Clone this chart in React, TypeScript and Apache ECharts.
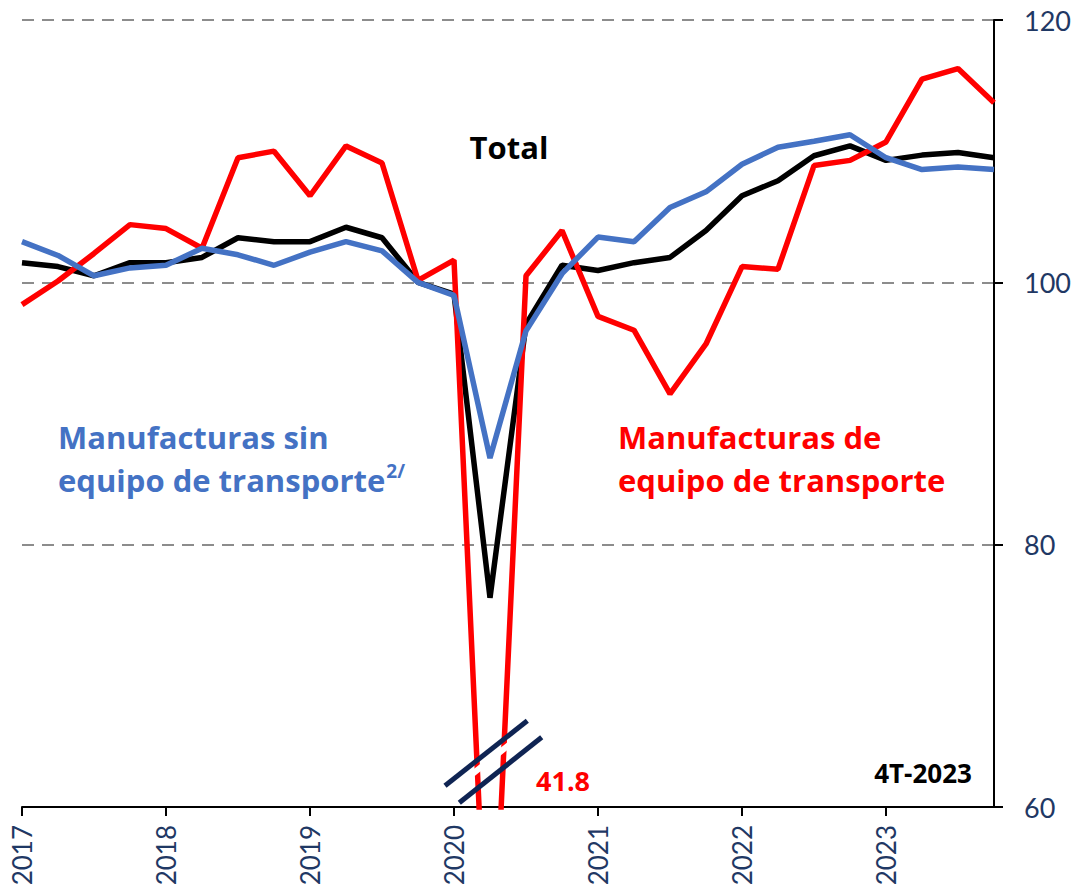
import React, { useEffect, useRef } from "react";
import * as echarts from "echarts";

const quarters: string[] = [];
const years = ["2017", "2018", "2019", "2020", "2021", "2022", "2023"];
for (const y of years) for (const q of ["1T", "2T", "3T", "4T"]) quarters.push(`${q}-${y}`);

const transporte = [98.3, 100.1, 102.2, 104.4, 104.1, 102.6, 109.5, 110.0, 106.6, 110.4, 109.1, 100.15, 101.7, 41.8, 100.5, 103.95, 97.4, 96.35, 91.5, 95.3, 101.2, 101.0, 108.9, 109.3, 110.7, 115.5, 116.3, 113.7];
const total = [101.5, 101.2, 100.5, 101.5, 101.5, 101.9, 103.4, 103.1, 103.1, 104.2, 103.4, 100.0, 99.1, 75.95, 96.8, 101.3, 100.9, 101.5, 101.9, 103.95, 106.6, 107.75, 109.65, 110.4, 109.3, 109.7, 109.9, 109.5];
const sinTransporte = [103.1, 102.05, 100.5, 101.1, 101.3, 102.6, 102.1, 101.3, 102.3, 103.1, 102.4, 100.0, 99.0, 86.6, 96.3, 100.66, 103.45, 103.1, 105.7, 106.9, 109.0, 110.3, 110.75, 111.25, 109.5, 108.6, 108.8, 108.6];

const FONT = "Lato, 'Noto Sans', sans-serif";
const TFONT = "'Open Sans', 'Noto Sans', sans-serif";
const NAVY = "#1F3864";

export default function App() {
  const ref = useRef<HTMLDivElement>(null);
  useEffect(() => {
    document.body.style.margin = "0";
    const chart = echarts.init(ref.current!, undefined, { renderer: "svg" });
    chart.setOption({
      animation: false,
      grid: { left: 22, right: 84, top: 20, bottom: 89, containLabel: false },
      xAxis: {
        type: "category",
        data: quarters,
        boundaryGap: false,
        axisLine: { lineStyle: { color: "#000", width: 2 } },
        axisTick: { interval: 3, length: 9, lineStyle: { color: "#000", width: 2 } },
        axisLabel: {
          interval: 3,
          rotate: 90,
          margin: 18,
          color: NAVY,
          fontSize: 26,
          fontFamily: FONT,
          formatter: (v: string) => v.split("-")[1],
        },
        splitLine: { show: false },
      },
      yAxis: {
        type: "value",
        position: "right",
        min: 60,
        max: 120,
        interval: 20,
        axisLine: { show: true, lineStyle: { color: "#000", width: 2 } },
        axisTick: { show: true, length: 9, lineStyle: { color: "#000", width: 2 } },
        axisLabel: { margin: 30, color: NAVY, fontSize: 27, fontFamily: FONT },
        splitLine: { show: true, lineStyle: { color: "#8C8C8C", width: 2, type: [12, 8] } },
      },
      series: [
        { name: "Total", type: "line", data: total, symbol: "none", lineStyle: { color: "#000", width: 5.5 }, z: 2 },
        { name: "Manufacturas de equipo de transporte", type: "line", data: transporte, symbol: "none", lineStyle: { color: "#FF0000", width: 5.5 }, z: 3 },
        { name: "Manufacturas sin equipo de transporte", type: "line", data: sinTransporte, symbol: "none", lineStyle: { color: "#4472C4", width: 5.5 }, z: 4 },
      ],
      graphic: [
        { type: "line", z: 100, shape: { x1: 445, y1: 795.7, x2: 527, y2: 730.7 }, style: { stroke: "#fff", lineWidth: 6 } },
        { type: "line", z: 101, shape: { x1: 445, y1: 785.7, x2: 527.3, y2: 720.7 }, style: { stroke: "#0F2453", lineWidth: 5 } },
        { type: "line", z: 101, shape: { x1: 459.3, y1: 802.7, x2: 541.7, y2: 737.3 }, style: { stroke: "#0F2453", lineWidth: 5 } },
        { type: "text", z: 102, x: 563, y: 780, style: { text: "41.8", fill: "#FF0000", font: `bold 27px ${TFONT}`, textAlign: "center", textVerticalAlign: "middle" } },
        { type: "text", z: 102, x: 923, y: 773, style: { text: "4T-2023", fill: "#000", font: `bold 26px ${TFONT}`, textAlign: "center", textVerticalAlign: "middle" } },
        { type: "text", z: 102, x: 509, y: 147, style: { text: "Total", fill: "#000", font: `bold 31px ${TFONT}`, textAlign: "center", textVerticalAlign: "middle" } },
        { type: "text", z: 102, x: 58, y: 437, style: { text: "Manufacturas sin", fill: "#4472C4", font: `bold 31px ${TFONT}`, textAlign: "left", textVerticalAlign: "middle" } },
        {
          type: "text", z: 102, x: 58, y: 480,
          style: {
            text: "{a|equipo de transporte}{s|2/}",
            textAlign: "left",
            textVerticalAlign: "middle",
            rich: {
              a: { fill: "#4472C4", font: `bold 31px ${TFONT}`, lineHeight: 38, verticalAlign: "middle" },
              s: { fill: "#4472C4", font: `bold 19px ${TFONT}`, lineHeight: 38, verticalAlign: "top", padding: [0, 0, 0, 1] },
            },
          },
        },
        { type: "text", z: 102, x: 618, y: 437, style: { text: "Manufacturas de", fill: "#FF0000", font: `bold 31px ${TFONT}`, textAlign: "left", textVerticalAlign: "middle" } },
        { type: "text", z: 102, x: 618, y: 480, style: { text: "equipo de transporte", fill: "#FF0000", font: `bold 31px ${TFONT}`, textAlign: "left", textVerticalAlign: "middle" } },
      ],
    });
    return () => chart.dispose();
  }, []);
  return <div ref={ref} style={{ width: 1078, height: 896 }} />;
}
